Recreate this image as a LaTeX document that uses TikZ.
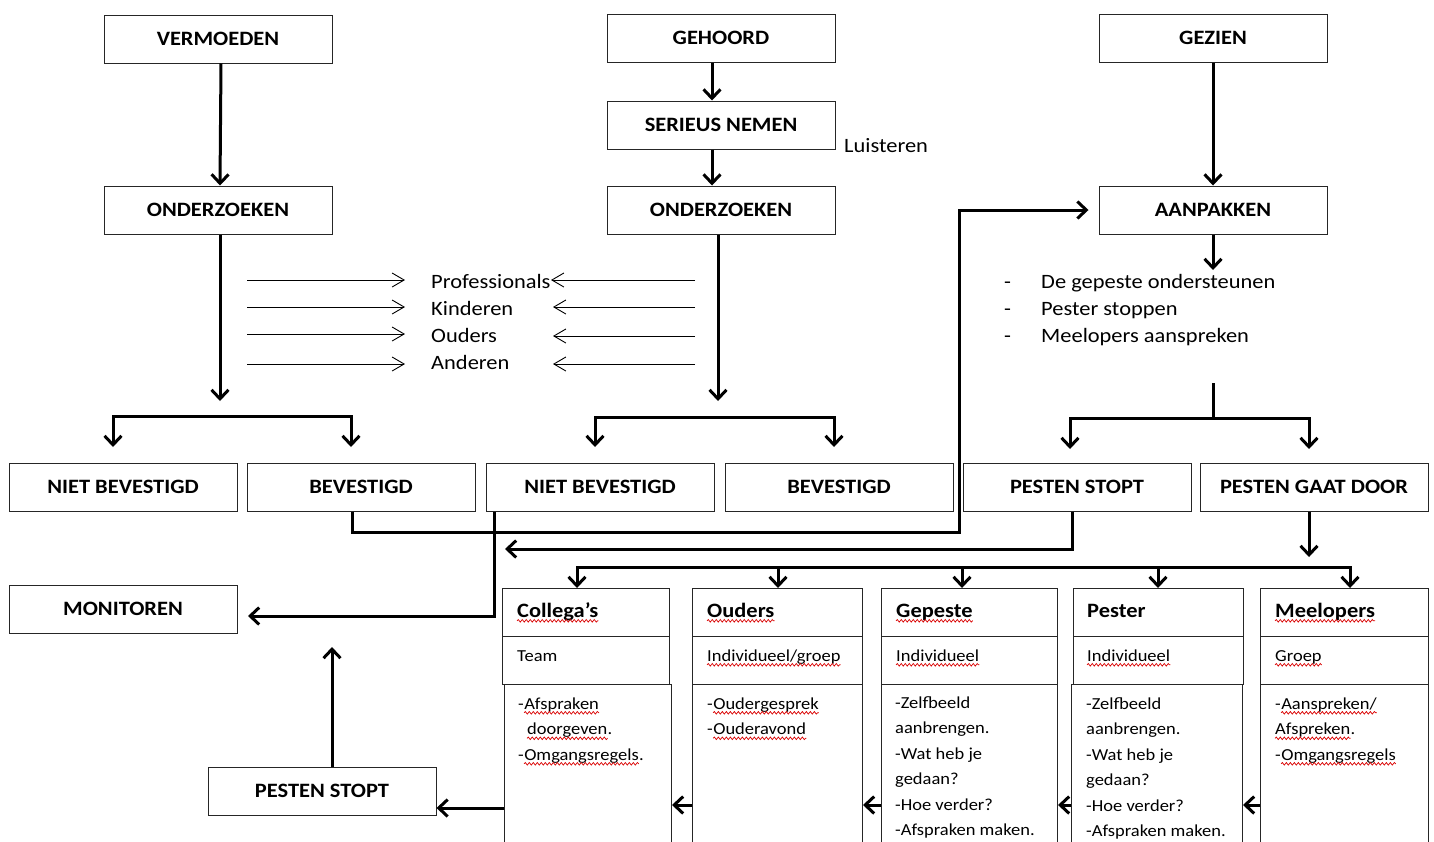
\documentclass[tikz,border=0pt]{standalone}
\usepackage{fontspec}
\setmainfont{Carlito}[FakeStretch=1.1]
\usetikzlibrary{arrows.meta,decorations.pathmorphing}
\tikzset{
  box/.style={draw=black!85, line width=1pt, minimum width=228pt, minimum height=48pt, inner sep=0pt, font=\fontsize{20.4}{24}\selectfont\bfseries},
  cellbox/.style={draw=black!85, line width=1pt, inner sep=0pt, anchor=north west},
  thk/.style={line width=3pt, -{Straight Barb[length=9pt,width=17pt]}},
  thkboth/.style={line width=3pt, {Straight Barb[length=9pt,width=17pt]}-{Straight Barb[length=9pt,width=17pt]}},
  thkline/.style={line width=3pt, line cap=rect},
  thn/.style={line width=0.9pt, -{Straight Barb[length=12pt,width=14pt]}},
  lbl/.style={font=\fontsize{20.4}{24}\selectfont, inner sep=0pt, anchor=base west},
  hdtxt/.style={font=\fontsize{20.4}{24}\selectfont\bfseries, inner sep=0pt, anchor=base west},
  t16/.style={font=\fontsize{16.8}{20}\selectfont, inner sep=0pt, anchor=base west},
  sqg/.style={draw=red!85!black, line width=0.7pt, decorate, decoration={snake, segment length=4pt, amplitude=1.3pt}},
}
\newcommand\wavy[1]{\draw[sqg] ([yshift=-3.8pt]#1.base west) -- ([yshift=-3.8pt]#1.base east);}
\begin{document}
\begin{tikzpicture}[x=1pt,y=-1pt]
\useasboundingbox (0,0) rectangle (1434,841);
\clip (0,0) rectangle (1434,841);

% top boxes
\node[box] (verm) at (218,39) {VERMOEDEN};
\node[box] (geh) at (721,38) {GEHOORD};
\node[box] (gez) at (1213,38) {GEZIEN};
\node[box] (ser) at (721,125) {SERIEUS NEMEN};
\node[box] (ondL) at (218,210) {ONDERZOEKEN};
\node[box] (ondM) at (721,210) {ONDERZOEKEN};
\node[box] (aan) at (1213,210) {AANPAKKEN};
\node[lbl] (luis) at (844,152) {Luisteren};

% row of outcome boxes
\node[box] (nb1) at (123,487) {NIET BEVESTIGD};
\node[box] (bev1) at (361,487) {BEVESTIGD};
\node[box] (nb2) at (600,487) {NIET BEVESTIGD};
\node[box] (bev2) at (839,487) {BEVESTIGD};
\node[box] (ps) at (1077,487) {PESTEN STOPT};
\node[box] (pgd) at (1314,487) {PESTEN GAAT DOOR};
\node[box] (mon) at (123,609) {MONITOREN};
\node[box] (ps2) at (322,791) {PESTEN STOPT};

% middle list
\node[lbl] (prof) at (431,288) {Professionals};
\node[lbl] (kind) at (431,315) {Kinderen};
\node[lbl] (oud) at (431,342) {Ouders};
\node[lbl] (and) at (431,369) {Anderen};
\foreach \y/\n in {280/1,307/2,334/3,364/4}{
  \coordinate (ra\n) at (247,\y);
  \coordinate (rb\n) at (405,\y);
  \draw[thn] (ra\n) -- (rb\n);
}
\foreach \y/\n/\t in {280/1/551,307/2/553,336/3/553,364/4/553}{
  \coordinate (la\n) at (695,\y);
  \coordinate (lb\n) at (\t,\y);
  \draw[thn] (la\n) -- (lb\n);
}

% right list
\node[lbl] (d1) at (1004,288) {-};
\node[lbl] (d2) at (1004,315) {-};
\node[lbl] (d3) at (1004,342) {-};
\node[lbl] (l1) at (1041,288) {De gepeste ondersteunen};
\node[lbl] (l2) at (1041,315) {Pester stoppen};
\node[lbl] (l3) at (1041,342) {Meelopers aanspreken};

% vertical arrows top
\draw[thk] ([xshift=3pt]verm.south) -- ([xshift=2pt]ondL.north);
\draw[thk] ([xshift=-9pt]geh.south) -- ([xshift=-9pt]ser.north);
\draw[thk] ([xshift=-9pt]ser.south) -- ([xshift=-9pt]ondM.north);
\draw[thk] (gez.south) -- (aan.north);
\coordinate (aanT) at (1213,270);
\draw[thk] (aan.south) -- (aanT);

\coordinate (ondLT) at (220,401);
\draw[thk] ([xshift=2pt]ondL.south) -- (ondLT);
\coordinate (ondMT) at (718,401);
\draw[thk] ([xshift=-3pt]ondM.south) -- (ondMT);

% branches
\coordinate (bl1) at (113,447); \coordinate (bl2) at (113,416);
\coordinate (bl3) at (351,416); \coordinate (bl4) at (351,447);
\draw[thkboth] (bl1) -- (bl2) -- (bl3) -- (bl4);
\coordinate (bm1) at (595,447); \coordinate (bm2) at (595,417);
\coordinate (bm3) at (834,417); \coordinate (bm4) at (834,447);
\draw[thkboth] (bm1) -- (bm2) -- (bm3) -- (bm4);
\coordinate (st1) at (1213,383); \coordinate (st2) at (1213,418);
\draw[line width=3pt] (st1) -- (st2);
\coordinate (br1) at (1070,449); \coordinate (br2) at (1070,418);
\coordinate (br3) at (1309,418); \coordinate (br4) at (1309,449);
\draw[thkboth] (br1) -- (br2) -- (br3) -- (br4);

% long connectors
\coordinate (k1) at (959,532);
\coordinate (k2) at (959,210);
\coordinate (aanIn) at ([xshift=-10pt]aan.west);
\draw[thk] ([xshift=-9pt]bev1.south) |- (k1) -- (k2) -- (aanIn);
\coordinate (k3) at (505,549);
\draw[thk] ([xshift=-5pt]ps.south) |- (k3);
\coordinate (monIn) at (248,616);
\draw[thk] ([xshift=-106pt]nb2.south) |- (monIn);
\coordinate (pgdT) at (1309,557);
\draw[thk] ([xshift=-5pt]pgd.south) -- (pgdT);

% table cells
\node[cellbox, minimum width=167pt, minimum height=48pt] (h1) at (502,588) {};
\node[cellbox, minimum width=167pt, minimum height=48pt] (s1) at (502,636) {};
\node[cellbox, minimum width=167pt, minimum height=220pt] (body1) at (504,684) {};
\node[cellbox, minimum width=170pt, minimum height=48pt] (h2) at (692,588) {};
\node[cellbox, minimum width=170pt, minimum height=48pt] (s2) at (692,636) {};
\node[cellbox, minimum width=170pt, minimum height=220pt] (body2) at (692,684) {};
\node[cellbox, minimum width=176pt, minimum height=48pt] (h3) at (881,588) {};
\node[cellbox, minimum width=176pt, minimum height=48pt] (s3) at (881,636) {};
\node[cellbox, minimum width=176pt, minimum height=220pt] (body3) at (881,684) {};
\node[cellbox, minimum width=170pt, minimum height=48pt] (h4) at (1073,588) {};
\node[cellbox, minimum width=170pt, minimum height=48pt] (s4) at (1073,636) {};
\node[cellbox, minimum width=171pt, minimum height=220pt] (body4) at (1071,684) {};
\node[cellbox, minimum width=168pt, minimum height=48pt] (h5) at (1260,588) {};
\node[cellbox, minimum width=168pt, minimum height=48pt] (s5) at (1260,636) {};
\node[cellbox, minimum width=168pt, minimum height=220pt] (body5) at (1260,684) {};

% headers
\node[hdtxt] (ht1) at (517,617) {Collega’s}; \wavy{ht1}
\node[hdtxt] (ht2) at (707,617) {Ouders}; \wavy{ht2}
\node[hdtxt] (ht3) at (896,617) {Gepeste}; \wavy{ht3}
\node[hdtxt] (ht4) at (1087,617) {Pester};
\node[hdtxt] (ht5) at (1275,617) {Meelopers}; \wavy{ht5}

% sub rows
\node[t16] (sr1) at (517,661) {Team};
\node[t16] (sr2) at (707,661) {Individueel/groep}; \wavy{sr2}
\node[t16] (sr3) at (896,661) {Individueel}; \wavy{sr3}
\node[t16] (sr4) at (1087,661) {Individueel}; \wavy{sr4}
\node[t16] (sr5) at (1275,661) {Groep}; \wavy{sr5}

% body: Collega's
\node[t16] (a1d) at (518,709) {-};
\node[t16] (a1w) at (a1d.base east) {Afspraken}; \wavy{a1w}
\node[t16] (a2w) at (527,734.5) {doorgeven}; \wavy{a2w}
\node[t16] (a2p) at (a2w.base east) {.};
\node[t16] (a3d) at (518,760) {-};
\node[t16] (a3w) at (a3d.base east) {Omgangsregels}; \wavy{a3w}
\node[t16] (a3p) at (a3w.base east) {.};

% body: Ouders
\node[t16] (b1d) at (707,709) {-};
\node[t16] (b1w) at (b1d.base east) {Oudergesprek}; \wavy{b1w}
\node[t16] (b2d) at (707,734.5) {-};
\node[t16] (b2w) at (b2d.base east) {Ouderavond}; \wavy{b2w}

% body: Gepeste
\node[t16] (g1) at (895,708) {-Zelfbeeld};
\node[t16] (g2) at (895,733.5) {aanbrengen.};
\node[t16] (g3) at (895,759) {-Wat heb je};
\node[t16] (g4) at (895,784.5) {gedaan?};
\node[t16] (g5) at (895,810) {-Hoe verder?};
\node[t16] (g6) at (895,835.5) {-Afspraken maken.};

% body: Pester
\node[t16] (p1) at (1086,709) {-Zelfbeeld};
\node[t16] (p2) at (1086,734.5) {aanbrengen.};
\node[t16] (p3) at (1086,760) {-Wat heb je};
\node[t16] (p4) at (1086,785.5) {gedaan?};
\node[t16] (p5) at (1086,811) {-Hoe verder?};
\node[t16] (p6) at (1086,836.5) {-Afspraken maken.};

% body: Meelopers
\node[t16] (m1d) at (1275,709) {-};
\node[t16] (m1w) at (m1d.base east) {Aanspreken/}; \wavy{m1w}
\node[t16] (m2w) at (1275,734.5) {Afspreken}; \wavy{m2w}
\node[t16] (m2p) at (m2w.base east) {.};
\node[t16] (m3d) at (1275,760) {-};
\node[t16] (m3w) at (m3d.base east) {Omgangsregels}; \wavy{m3w}

% bus to table
\coordinate (bus1) at (577,567);
\coordinate (bus2) at (778,567);
\coordinate (bus3) at (962,567);
\coordinate (bus4) at (1158,567);
\coordinate (bus5) at (1350,567);
\draw[thkline] (bus1) -- (bus5);
\draw[thk] (bus1) -- (bus1 |- h1.north);
\draw[thk] (bus2) -- (bus2 |- h2.north);
\draw[thk] (bus3) -- (bus3 |- h3.north);
\draw[thk] (bus4) -- (bus4 |- h4.north);
\draw[thk] (bus5) -- (bus5 |- h5.north);

% arrows between table columns
\coordinate (ty) at (0,805);
\coordinate (ty2) at (0,808);
\draw[thk] (body2.west |- ty) -- (body1.east |- ty);
\draw[thk] (body3.west |- ty) -- (body2.east |- ty);
\draw[thk] (body4.west |- ty) -- (body3.east |- ty);
\draw[thk] (body5.west |- ty) -- (body4.east |- ty);
\draw[thk] (body1.west |- ty2) -- (ps2.east |- ty2);

% pesten stopt to monitoren
\coordinate (pu) at (332,647);
\draw[thk] (ps2.north -| pu) -- (pu);
\end{tikzpicture}
\end{document}
